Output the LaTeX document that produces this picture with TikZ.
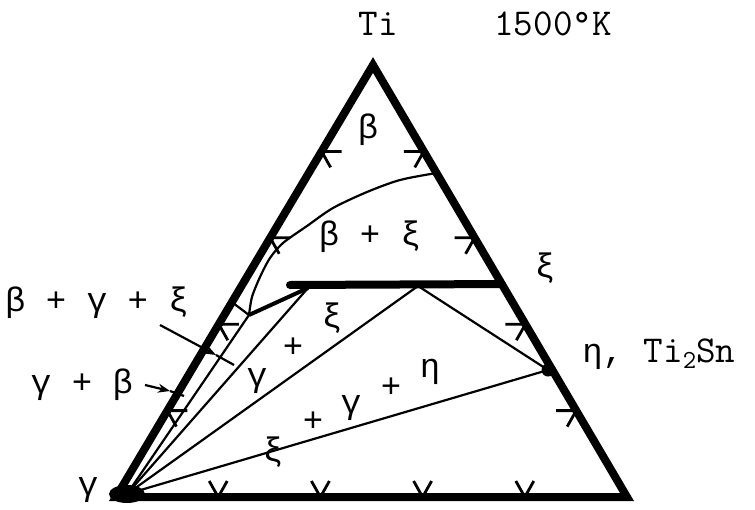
\documentclass[tikz,border=0pt]{standalone}
\usepackage{fontspec}
\newfontfamily\gr{Liberation Mono}
\usepackage{tikz}
\usetikzlibrary{calc,arrows.meta}

\begin{document}
\begin{tikzpicture}[x=0.5pt, y=-0.5pt, >={Stealth[length=6pt,width=4.5pt]},
    font=\fontsize{17}{20}\selectfont\gr,
    side/.style={line width=4pt},
    tie/.style={line width=1.1pt},
    tick/.style={line width=1.4pt},
    tt/.style={font=\fontsize{19}{22}\selectfont\ttfamily},
    every node/.style={inner sep=0pt}]
    \useasboundingbox (0,0) rectangle (755,509);
        \coordinate (G) at (116,497);
        \coordinate (R) at (627,497);
        \coordinate (T) at (373,65);
        \coordinate (Gc) at (127,494);
        \coordinate (Pb) at (249,315);
        \coordinate (J1) at (308,288);
        \coordinate (J2) at (418,286);
        \coordinate (Et) at (548,370);
        \coordinate (Xl) at (290,285);
        \coordinate (Xr) at ($(R)!0.493!(T)$);
        \draw[side] (G) -- (R) -- (T) -- cycle;
        \fill (Gc) ellipse[x radius=18, y radius=9];
        \fill (Et) circle[radius=6.5];
        \foreach \t in {0.2,0.4,0.6,0.8}{
            \draw[tick] ($(G)!\t!(R)$) ++(-9,-16) -- ++(9,16) -- ++(9,-16);
            \draw[tick] ($(G)!\t!(T)$) ++(20,0) -- ++(-20,0) -- ++(9,16);
            \draw[tick] ($(R)!\t!(T)$) ++(-20,0) -- ++(20,0) -- ++(-9,16);
        }
        \draw[tie] plot[smooth] coordinates {($(R)!0.75!(T)$) (400,180) (367,192) (333,208)
            (307,226) (283,243) (270,258) (260,277) (252,297) (Pb)};
        \draw[tie] ($(G)!0.451!(T)$) -- (Pb);
        \draw[line width=2pt] (Pb) -- (J1);
        \draw[side, line cap=round] (Xl) -- (Xr);
        \draw[tie] (Pb) -- (Gc);
        \draw[tie] (J1) -- (Gc);
        \draw[tie] (J2) -- (Gc);
        \draw[tie] (J2) -- (Et) -- (Gc);
        \node[tt] (ti) at (378,24) {Ti};
        \node[tt] (temp) at (553,24) {1500°K};
        \node (beta) at (368,130) {β};
        \node (bx) at (370,237) {β + ξ};
        \node (xi) at (545,268) {ξ};
        \node (bgx) at (97,303) {β + γ + ξ};
        \node (gb) at (82,385) {γ + β};
        \node (gam) at (88,490) {γ};
        \node (eta) [anchor=base west] at (582,362) {η,\ {\ttfamily\fontsize{19}{22}\selectfont Ti\raisebox{-0.4ex}{\fontsize{13}{13}\selectfont 2}Sn}};
        \node (gxA) at (332,318) {ξ};
        \node (gxB) at (293,348) {+};
        \node (gxC) at (257,381) {γ};
        \node (xgeA) at (273,452) {ξ};
        \node (xgeB) at (313,422) {+};
        \node (xgeC) at (351,408) {γ};
        \node (xgeD) at (391,388) {+};
        \node (xgeE) at (430,372) {η};
        \coordinate (a1s) at (160,325);
        \coordinate (a1) at (216,355);
        \coordinate (a1e) at (234,365);
        \coordinate (a2s) at (145,385);
        \coordinate (a2) at (170,391);
        \coordinate (a2e) at (184,396);
        \draw[tie,->] (a1s) -- (a1);
        \draw[tie] (a1) -- (a1e);
        \draw[tie,->] (a2s) -- (a2);
        \draw[tie] (a2) -- (a2e);
    \end{tikzpicture}
\end{document}
